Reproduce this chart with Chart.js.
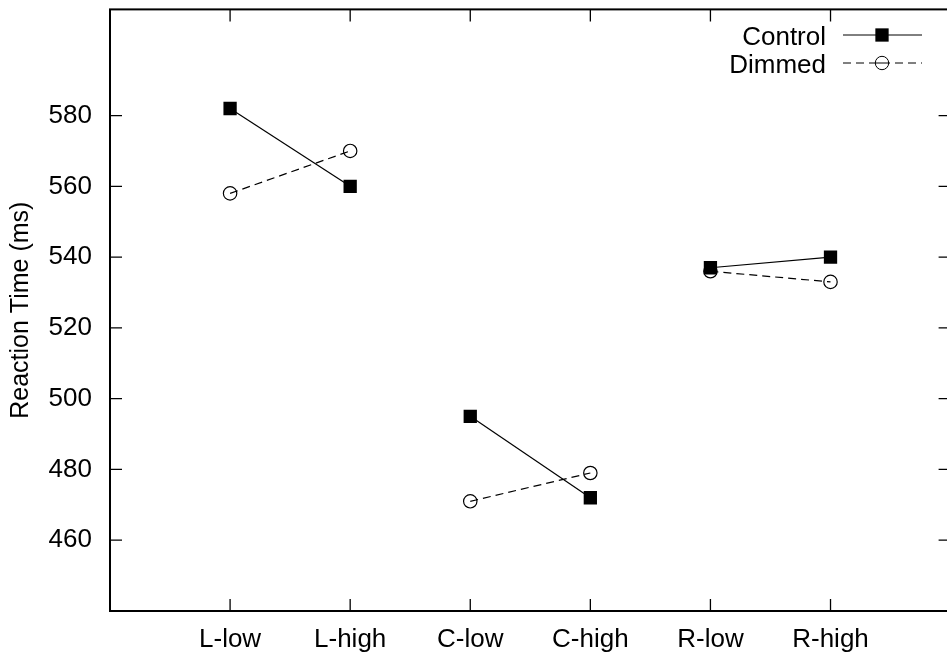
<!DOCTYPE html>
<html>
<head>
<meta charset="utf-8">
<title>Reaction Time</title>
<script src="https://cdn.jsdelivr.net/npm/chart.js@4/dist/chart.umd.min.js"></script>
<style>
  html, body { margin: 0; padding: 0; background: #fff; overflow: hidden; }
  #wrap { width: 947px; height: 655px; overflow: hidden; }
</style>
</head>
<body>
<div id="wrap"><canvas id="rtChart" width="960" height="655"></canvas></div>
<script>
// categories (x ticks)
const conditions = ["L-low", "L-high", "C-low", "C-high", "R-low", "R-high"];
// series values (ms)
const controlRT = [582, 560, 495, 472, 537, 540];
const dimmedRT = [558, 570, 471, 479, 536, 533];
// y tick values
const yTickValues = [460, 480, 500, 520, 540, 560, 580];

Chart.defaults.font.family = "'Liberation Sans', Arial, sans-serif";
Chart.defaults.font.size = 26;
Chart.defaults.color = "#000";

const toPoints = vals => vals.map((v, i) => ({ x: i + 1, y: v }));
// only join the low/high pair of each group
const pairOnly = ctx => (ctx.p0DataIndex % 2 === 1 ? "rgba(0,0,0,0)" : "#000");

// gnuplot-like frame, inward ticks and key
const frame = {
    id: "frame",
    afterDraw(chart) {
        const { ctx, chartArea: a, scales } = chart;
        const tl = 12;
        ctx.save();
        ctx.strokeStyle = "#000";
        ctx.lineWidth = 1.3;
        ctx.setLineDash([]);
        ctx.beginPath();
        scales.x.ticks.forEach(t => {
            const px = scales.x.getPixelForValue(t.value);
            ctx.moveTo(px, a.bottom); ctx.lineTo(px, a.bottom - tl);
            ctx.moveTo(px, a.top); ctx.lineTo(px, a.top + tl);
        });
        scales.y.ticks.forEach(t => {
            const py = scales.y.getPixelForValue(t.value);
            ctx.moveTo(a.left, py); ctx.lineTo(a.left + tl, py);
            ctx.moveTo(a.right, py); ctx.lineTo(a.right - tl, py);
        });
        ctx.stroke();
        ctx.lineWidth = 2;
        ctx.strokeRect(a.left, a.top, a.right - a.left, a.bottom - a.top);

        // key
        ctx.font = "26px 'Liberation Sans', Arial, sans-serif";
        ctx.textAlign = "right";
        ctx.textBaseline = "alphabetic";
        chart.data.datasets.forEach((ds, i) => {
            const ly = 35 + 28 * i;
            ctx.fillStyle = "#000";
            ctx.fillText(ds.label, 826, ly + 10);
            ctx.lineWidth = 1;
            ctx.setLineDash(ds.borderDash || []);
            ctx.beginPath();
            ctx.moveTo(843, ly); ctx.lineTo(922, ly);
            ctx.stroke();
            ctx.setLineDash([]);
            if (ds.pointStyle === "rect") {
                const s = ds.pointRadius * Math.SQRT1_2;
                ctx.fillRect(882 - s, ly - s, 2 * s, 2 * s);
            } else {
                ctx.fillStyle = "#fff";
                ctx.beginPath();
                ctx.arc(882, ly, ds.pointRadius, 0, Math.PI * 2);
                ctx.fill();
                ctx.stroke();
                ctx.beginPath();
                ctx.moveTo(882 - ds.pointRadius, ly); ctx.lineTo(882 + ds.pointRadius, ly);
                ctx.stroke();
            }
        });
        ctx.restore();
    }
};

new Chart(document.getElementById("rtChart"), {
    type: "line",
    data: {
        datasets: [
            {
                label: "Control",
                data: toPoints(controlRT),
                borderColor: "#000",
                borderWidth: 1.2,
                pointStyle: "rect",
                pointRadius: 9.4,
                pointBackgroundColor: "#000",
                pointBorderColor: "#000",
                pointBorderWidth: 0,
                segment: { borderColor: pairOnly }
            },
            {
                label: "Dimmed",
                data: toPoints(dimmedRT),
                borderColor: "#000",
                borderWidth: 1.2,
                borderDash: [8, 5],
                pointStyle: "circle",
                pointRadius: 6.7,
                pointBackgroundColor: "rgba(0,0,0,0)",
                pointBorderColor: "#000",
                pointBorderWidth: 1.2,
                segment: { borderColor: pairOnly }
            }
        ]
    },
    options: {
        responsive: false,
        animation: false,
        layout: { padding: { top: 9, right: 4, left: 0, bottom: 0 } },
        plugins: {
            legend: { display: false },
            tooltip: { enabled: false }
        },
        scales: {
            x: {
                type: "linear",
                min: 0,
                max: 7,
                afterBuildTicks: scale => { scale.ticks = conditions.map((c, i) => ({ value: i + 1 })); },
                afterFit: scale => {
                    scale.height = 44;
                    scale.paddingLeft = 0;
                    scale.paddingRight = 0;
                },
                grid: { display: false, drawTicks: false },
                border: { display: false },
                ticks: {
                    padding: 13,
                    maxRotation: 0,
                    callback: v => conditions[v - 1]
                }
            },
            y: {
                min: 440,
                max: 610,
                afterBuildTicks: scale => { scale.ticks = yTickValues.map(v => ({ value: v })); },
                afterFit: scale => {
                    scale.width = 110;
                    scale.paddingTop = 0;
                    scale.paddingBottom = 0;
                },
                grid: { display: false, drawTicks: false },
                border: { display: false },
                ticks: { padding: 18 },
                title: {
                    display: true,
                    text: "Reaction Time (ms)",
                    font: { size: 25 },
                    padding: { top: 6, bottom: 0 }
                }
            }
        }
    },
    plugins: [frame]
});
</script>
</body>
</html>
